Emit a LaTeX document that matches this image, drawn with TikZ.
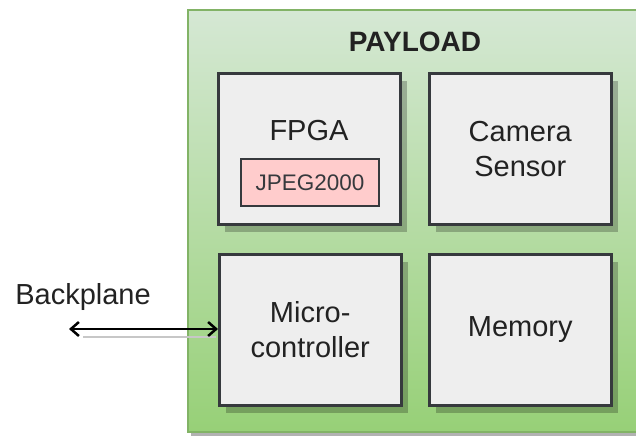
\documentclass[tikz,border=0pt]{standalone}
\usepackage{fontspec}
\setmainfont{Liberation Sans}
\usetikzlibrary{arrows.meta}
\definecolor{boxfill}{HTML}{EEEEEE}
\definecolor{boxline}{HTML}{36393D}
\definecolor{jpegfill}{HTML}{FFCCCC}
\definecolor{greentop}{HTML}{D5E8D4}
\definecolor{greenbot}{HTML}{97D077}
\definecolor{greenline}{HTML}{82B366}
\definecolor{ink}{HTML}{222222}
\begin{document}
\begin{tikzpicture}[x=1pt,y=-1pt,
  block/.style={draw=boxline, line width=2.5pt, fill=boxfill, minimum width=182pt, minimum height=151pt,
    inner sep=0pt, align=center, text=ink, font=\fontsize{29}{35}\selectfont},
  blockshadow/.style={fill=black, fill opacity=0.24},
  inner/.style={draw=boxline, line width=2.5pt, fill=jpegfill, minimum width=138pt, minimum height=47pt,
    inner sep=0pt, font=\fontsize{22.5}{27}\selectfont, text=boxline},
  lbl/.style={inner sep=0pt, text=ink, font=\fontsize{29}{35}\selectfont}]
\useasboundingbox (0,0) rectangle (636,437);
\begin{scope}
\clip (0,0) rectangle (636,437);
% payload container with its shadow
\fill[black!30] (191,13) rectangle (643,436);
\shade[top color=greentop, bottom color=greenbot, draw=greenline, line width=1.5pt]
  (188,10) rectangle (640,432);
\end{scope}
\node[font=\bfseries\fontsize{28}{34}\selectfont, inner sep=0pt, text=ink] (payload) at (415,42) {PAYLOAD};
% block shadows
\foreach \x/\y in {217/72, 428/72, 218/253, 428/253}
  \fill[blockshadow] (\x+8,\y+9) rectangle ++(182,151);
% blocks
\node[block, anchor=north west] (fpga) at (217,72) {};
\node[lbl] at (309,131) {FPGA};
\node[inner] (jpeg) at (310,182.5) {JPEG2000};
\node[block, anchor=north west] (cam) at (428,72) {Camera\\Sensor};
\node[block, anchor=north west] (mcu) at (218,253) {Micro-\\controller};
\node[block, anchor=north west] (mem) at (428,253) {Memory};
% backplane link
\node[lbl] (bp) at (83,297) {Backplane};
\coordinate (bpend) at (69,329);
\draw[black!22, line width=2.5pt] ([shift={(14,8)}]bpend) -- ([shift={(-2,8)}]mcu.west |- bpend);
\draw[line width=2.5pt, {Straight Barb[length=8pt,width=14pt]}-{Straight Barb[length=8pt,width=14pt]}]
  (bpend) -- (mcu.west |- bpend);
\end{tikzpicture}
\end{document}
